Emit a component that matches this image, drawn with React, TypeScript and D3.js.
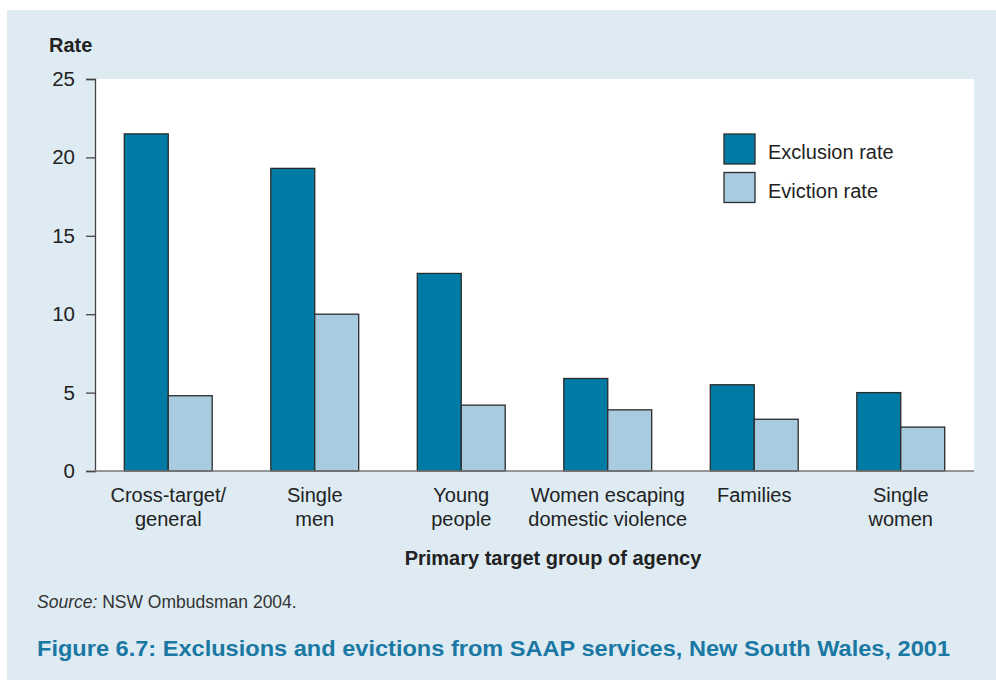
import React, { useEffect, useRef } from "react";
import * as d3 from "d3";

const categories = [
  ["Cross-target/", "general"],
  ["Single", "men"],
  ["Young", "people"],
  ["Women escaping", "domestic violence"],
  ["Families"],
  ["Single", "women"],
];
const seriesNames = ["Exclusion rate", "Eviction rate"];
const exclusionRate = [21.5, 19.3, 12.6, 5.9, 5.5, 5.0];
const evictionRate = [4.8, 10.0, 4.2, 3.9, 3.3, 2.8];
const yTicks = [0, 5, 10, 15, 20, 25];
const colors = ["#007ba5", "#a8cbe0"];

export default function App() {
  const ref = useRef<SVGSVGElement>(null);
  useEffect(() => {
    const svg = d3.select(ref.current);
    svg.selectAll("*").remove();
    const W = 996, H = 680;
    const font = "Liberation Sans, Arial, Helvetica, sans-serif";
    svg.append("rect").attr("x", 0).attr("y", 0).attr("width", W).attr("height", H).attr("fill", "#fff");
    svg.append("rect").attr("x", 7).attr("y", 10).attr("width", W - 7).attr("height", H - 10).attr("fill", "#deebf3");

    const left = 95, right = 974, top = 79, bottom = 471;
    svg.append("rect").attr("x", left).attr("y", top).attr("width", right - left).attr("height", bottom - top).attr("fill", "#fff");

    const idx = categories.map((_, i) => String(i));
    const x = d3.scaleBand().domain(idx).range([left, right]).paddingInner(0.4).paddingOuter(0.2);
    const x1 = d3.scaleBand().domain(["0", "1"]).range([0, x.bandwidth()]);
    const y = d3.scaleLinear().domain([0, 25]).range([bottom, top]);

    const data = [exclusionRate, evictionRate];
    data.forEach((arr, s) => {
      svg.append("g").selectAll("rect").data(arr).enter().append("rect")
        .attr("x", (_, i) => (x(String(i)) as number) + (x1(String(s)) as number))
        .attr("y", (d) => y(d))
        .attr("width", x1.bandwidth())
        .attr("height", (d) => bottom - y(d))
        .attr("fill", colors[s])
        .attr("stroke", "#2b2b2b")
        .attr("stroke-width", 1.3);
    });

    const ax = svg.append("g").attr("transform", `translate(${left},0)`)
      .call(d3.axisLeft(y).tickValues(yTicks).tickSize(9).tickPadding(11).tickFormat(d3.format("d")));
    ax.select(".domain").attr("stroke", "#444").attr("stroke-width", 1.3);
    ax.selectAll(".tick line").attr("stroke", "#444").attr("stroke-width", 1.3);
    ax.selectAll(".tick text").attr("font-family", font).attr("font-size", 20.5).attr("fill", "#222");

    svg.append("line").attr("x1", left).attr("x2", right).attr("y1", bottom).attr("y2", bottom)
      .attr("stroke", "#777").attr("stroke-width", 1.5);

    categories.forEach((lines, i) => {
      const cx = (x(String(i)) as number) + x.bandwidth() / 2;
      const t = svg.append("text").attr("font-family", font).attr("font-size", 20).attr("fill", "#222")
        .attr("text-anchor", "middle");
      lines.forEach((ln, j) => {
        t.append("tspan").attr("x", cx).attr("y", 502 + j * 24).text(ln);
      });
    });

    svg.append("text").attr("x", 553).attr("y", 565).attr("text-anchor", "middle")
      .attr("font-family", font).attr("font-size", 20).attr("font-weight", "bold").attr("fill", "#222")
      .text("Primary target group of agency");

    svg.append("text").attr("x", 49).attr("y", 52)
      .attr("font-family", font).attr("font-size", 20).attr("font-weight", "bold").attr("fill", "#222")
      .text("Rate");

    seriesNames.forEach((n, i) => {
      svg.append("rect").attr("x", 724).attr("y", 134 + i * 38.5).attr("width", 31).attr("height", 30)
        .attr("fill", colors[i]).attr("stroke", "#2b2b2b").attr("stroke-width", 1.3);
      svg.append("text").attr("x", 768).attr("y", 159 + i * 38.5)
        .attr("font-family", font).attr("font-size", 20).attr("fill", "#222").text(n);
    });

    const src = svg.append("text").attr("x", 37).attr("y", 608)
      .attr("font-family", font).attr("font-size", 17.5).attr("fill", "#333");
    src.append("tspan").attr("font-style", "italic").text("Source:");
    src.append("tspan").text(" NSW Ombudsman 2004.");

    svg.append("text").attr("x", 37).attr("y", 656)
      .attr("font-family", font).attr("font-size", 21.5).attr("font-weight", "bold").attr("fill", "#1a78a3")
      .attr("textLength", 913).attr("lengthAdjust", "spacingAndGlyphs")
      .text("Figure 6.7: Exclusions and evictions from SAAP services, New South Wales, 2001");
  }, []);
  return (
    <svg ref={ref} width={996} height={680} style={{ position: "absolute", left: 0, top: 0 }} />
  );
}
